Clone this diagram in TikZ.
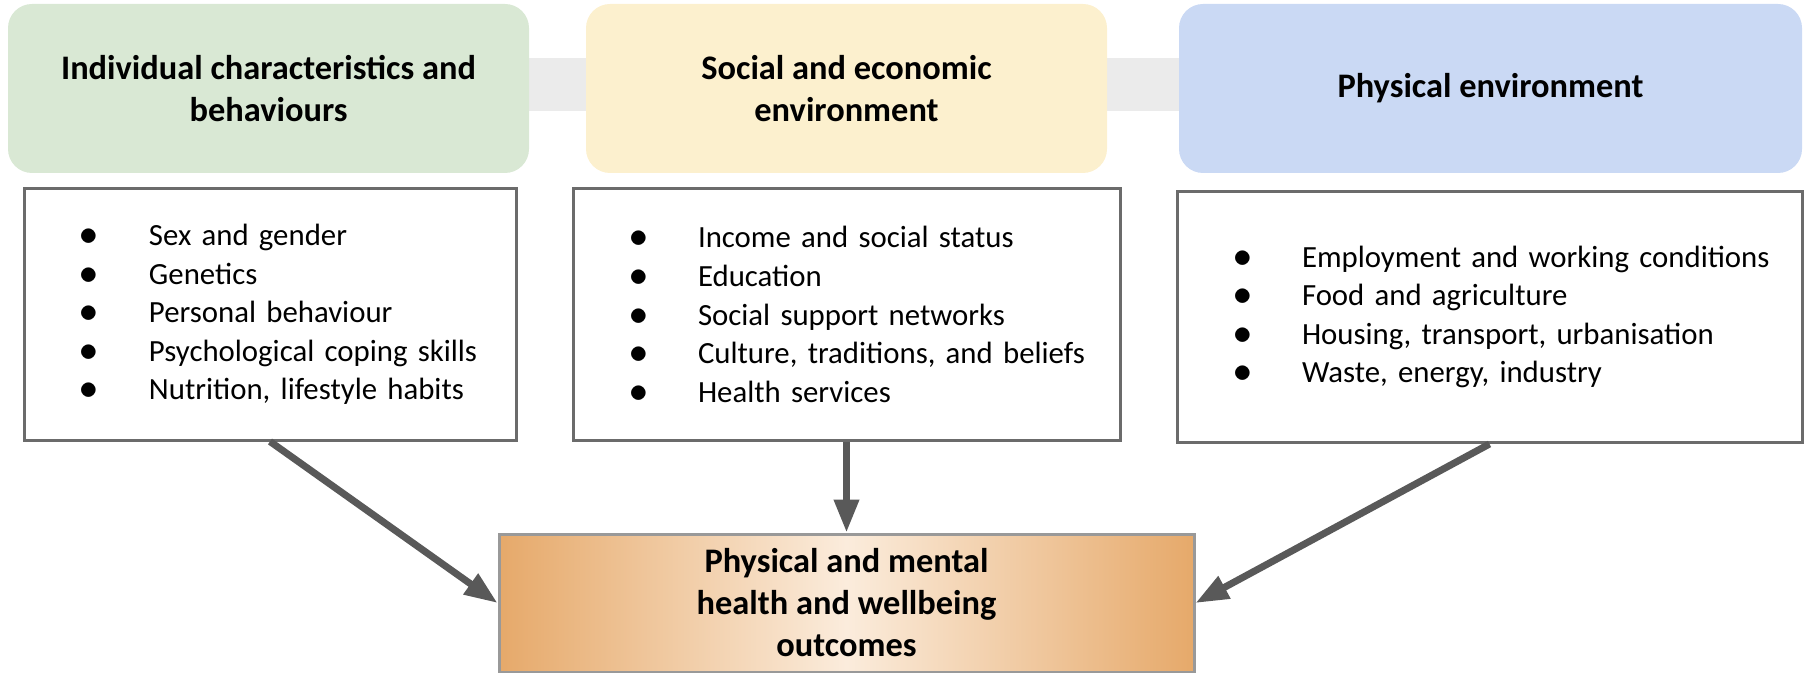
\documentclass[tikz,border=0pt]{standalone}
\usepackage{fontspec}
\setmainfont{Carlito}
\usetikzlibrary{arrows.meta,positioning}

\definecolor{indgreen}{HTML}{D9E8D4}
\definecolor{socyellow}{HTML}{FCF0CE}
\definecolor{physblue}{HTML}{CAD9F4}
\definecolor{bandgray}{HTML}{EBEBEB}
\definecolor{listgray}{HTML}{6B6B6B}
\definecolor{arrowgray}{HTML}{595959}
\definecolor{outorange}{HTML}{E6A96A}
\definecolor{outlight}{HTML}{FBECDC}
\definecolor{outborder}{HTML}{999999}

\newcommand{\itm}[1]{\hspace*{28pt}\makebox[34.5pt][l]{\scalebox{1.3}{$\bullet$}}#1}

\begin{document}
\begin{tikzpicture}[x=0.5pt,y=-0.5pt,>={Triangle[length=16.5pt,width=12pt]}]
  \tikzstyle{head}=[rounded corners=12pt,minimum height=84.5pt,inner sep=0pt,
                    align=center,font=\fontsize{17.2}{21}\selectfont\bfseries]
  \tikzstyle{list}=[draw=listgray,line width=1.5pt,fill=white,minimum height=125.5pt,
                    inner sep=0pt,align=left,font=\fontsize{15.4}{19.3}\selectfont]
  \tikzstyle{result}=[draw=outborder,line width=1.5pt,left color=outorange,right color=outorange,
                      middle color=outlight,minimum width=347.5pt,minimum height=69pt,
                      inner sep=0pt,align=center,font=\fontsize{17.2}{21}\selectfont\bfseries]
  \tikzstyle{flow}=[->,draw=arrowgray,line width=3.5pt]

  \useasboundingbox (0,0) rectangle (1808,673);
  \fill[bandgray] (268,58) rectangle (1490,111);

  \node[head,fill=indgreen,minimum width=260.5pt]  (ind)  at (268.5,88.5)  {Individual characteristics and\\behaviours};
  \node[head,fill=socyellow,minimum width=260.5pt] (soc)  at (846.5,88.5)  {Social and economic\\environment};
  \node[head,fill=physblue,minimum width=311.5pt]  (phys) at (1490.5,88.5) {Physical environment};

  \node[list,text width=246pt]   (indlist)  at (270,314.5)
    {\itm{Sex and gender}\\ \itm{Genetics}\\ \itm{Personal behaviour}\\
     \itm{Psychological coping skills}\\ \itm{Nutrition, lifestyle habits}};
  \node[list,text width=273.5pt] (soclist)  at (846.5,314.5)
    {\itm{Income and social status}\\ \itm{Education}\\ \itm{Social support networks}\\
     \itm{Culture, traditions, and beliefs}\\ \itm{Health services}};
  \node[list,text width=312.5pt] (physlist) at (1489.5,317)
    {\itm{Employment and working conditions}\\ \itm{Food and agriculture}\\
     \itm{Housing, transport, urbanisation}\\ \itm{Waste, energy, industry}};

  \node[result] (out) at (846.5,603) {Physical and mental\\health and wellbeing\\outcomes};

  \path (indlist.south)  edge[flow] (out.west)
        (soclist.south)  edge[flow] (out.north)
        (physlist.south) edge[flow] (out.east);
\end{tikzpicture}
\end{document}
